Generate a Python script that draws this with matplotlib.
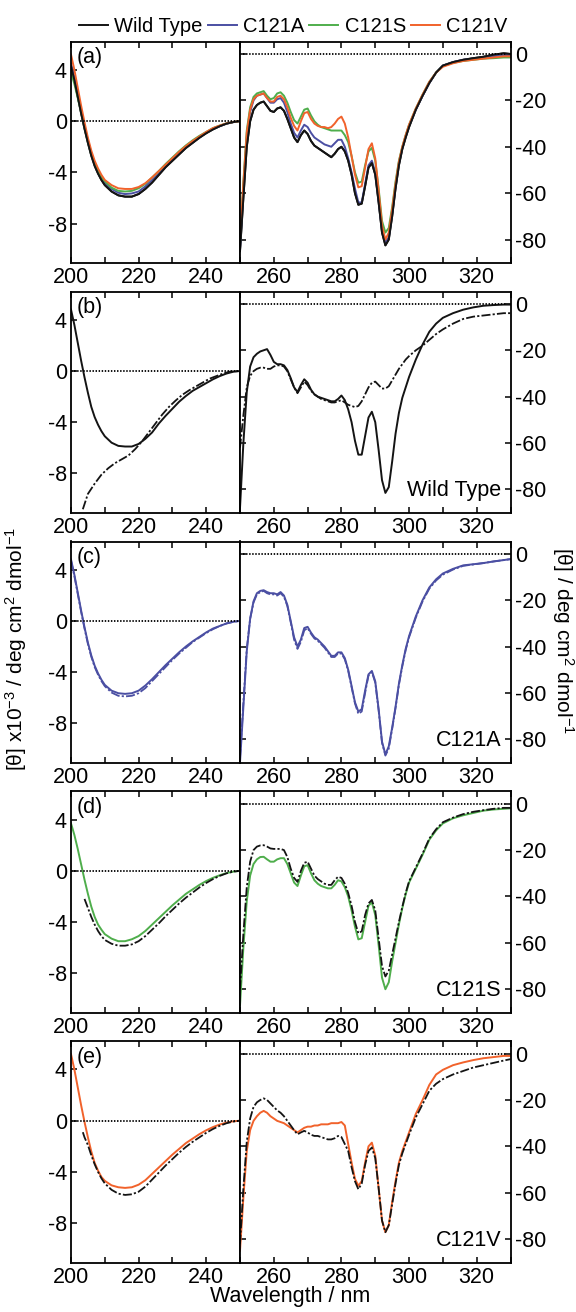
import matplotlib
matplotlib.use('Agg')
import matplotlib.pyplot as plt
from matplotlib.lines import Line2D
from matplotlib.ticker import MultipleLocator

plt.rcParams.update({
    'font.family': ['Liberation Sans', 'DejaVu Sans'],
    'font.size': 15,
    'mathtext.fontset': 'custom',
    'mathtext.rm': 'Liberation Sans',
    'mathtext.default': 'regular',
    'axes.unicode_minus': False,
    'axes.linewidth': 1.3,
})

# ---- data ----
names = ['Wild Type', 'C121A', 'C121S', 'C121V']
colors = {'Wild Type': '#141414', 'C121A': '#4b4fa3', 'C121S': '#4fae4c', 'C121V': '#f1622b'}
panel_tags = ['(a)', '(b)', '(c)', '(d)', '(e)']

far_wl = [200, 201, 202, 203, 204, 205, 206, 207, 208, 209, 210, 212, 214, 216, 218, 220,
          222, 224, 226, 228, 230, 232, 234, 236, 238, 240, 242, 244, 246, 248, 250]
near_wl = [250, 251, 252, 253, 254, 255, 256, 257, 258, 259, 260, 261, 262, 263, 264, 265,
           266, 267, 268, 269, 270, 271, 272, 273, 274, 275, 276, 277, 278, 279, 280, 281,
           282, 283, 284, 285, 286, 287, 288, 289, 290, 291, 292, 293, 294, 295, 296, 297,
           298, 299, 300, 302, 304, 306, 308, 310, 313, 316, 319, 322, 325, 328, 330]

# panel (a): all four proteins
far_a_wt = [4.3, 3.2, 1.9, 0.6, -0.6, -1.7, -2.7, -3.5, -4.1, -4.6, -5.0, -5.5, -5.8, -5.9, -5.9, -5.7,
            -5.3, -4.8, -4.2, -3.6, -3.1, -2.6, -2.1, -1.7, -1.3, -0.95, -0.65, -0.4, -0.2, -0.08, 0]
far_a_A = [4.5, 3.4, 2.1, 0.8, -0.4, -1.5, -2.5, -3.3, -3.9, -4.4, -4.8, -5.3, -5.6, -5.7, -5.65, -5.5,
           -5.1, -4.6, -4.1, -3.5, -3.0, -2.5, -2.05, -1.65, -1.25, -0.9, -0.6, -0.4, -0.2, -0.08, 0]
far_a_S = [3.8, 2.9, 1.8, 0.7, -0.5, -1.6, -2.6, -3.3, -3.9, -4.4, -4.7, -5.2, -5.45, -5.5, -5.45, -5.25,
           -4.9, -4.4, -3.9, -3.35, -2.85, -2.35, -1.9, -1.5, -1.15, -0.85, -0.55, -0.35, -0.18, -0.07, 0]
far_a_V = [5.2, 4.0, 2.6, 1.2, -0.1, -1.3, -2.3, -3.1, -3.7, -4.2, -4.6, -5.0, -5.25, -5.3, -5.3, -5.15,
           -4.85, -4.4, -3.9, -3.4, -2.9, -2.4, -1.95, -1.55, -1.2, -0.85, -0.55, -0.35, -0.18, -0.07, 0]

near_a_wt = [-85, -62, -40, -29, -24, -22, -21, -20.5, -22.5, -24.5, -25, -23.5, -23, -24.5, -28, -32,
             -36, -38, -35, -33, -34.5, -37.5, -39.5, -40.5, -41.5, -42.5, -43.5, -44.5, -43, -41, -40, -42,
             -46, -52, -60, -65, -64.5, -57, -49, -47, -52, -64, -77, -82.5, -80, -70, -58, -48,
             -41, -36, -31.5, -24, -18, -12.5, -8, -5, -3.5, -2.5, -1.8, -1.2, -0.3, 0.3, 0]
near_a_A = [-84, -58, -36, -25, -20, -18, -17.5, -17, -19, -21, -21, -19.5, -19, -21, -25, -30,
            -34, -36, -33, -30.5, -31.5, -34, -36, -37, -38, -39, -39.5, -40, -38.5, -37, -37, -40,
            -45, -51, -58, -64, -64, -56, -48, -46, -51, -63, -76, -81, -79, -69, -57, -47,
            -40.5, -35.5, -31, -24, -18, -12.5, -8, -5, -3.5, -2.5, -2, -1.5, -1, -0.5, -0.5]
near_a_S = [-82, -55, -33, -23, -18.5, -17, -16.5, -16, -18, -19.5, -19, -17, -16.5, -18, -21, -25,
            -28.5, -30, -27, -24, -23.5, -26.5, -29, -30.5, -31.5, -32, -32.5, -33, -33, -33, -33, -35,
            -38, -44, -51, -55.5, -55, -48, -42, -40.5, -46, -58, -72, -77, -75, -66, -55, -46,
            -40, -35, -30.5, -23.5, -17.5, -12, -8, -5.2, -3.8, -3, -2.5, -2, -1.8, -1.5, -1.5]
near_a_V = [-80, -56, -34, -24, -19.5, -18, -17.5, -17, -19, -20.5, -20.5, -18.5, -18, -19.5, -23, -27.5,
            -31, -33, -29, -25.5, -25, -28, -30, -31, -31.5, -31.5, -32, -31.5, -30, -28, -27, -30,
            -36, -44, -52, -57.5, -57, -49, -41, -38.5, -45, -59, -74, -80, -77, -67, -56, -46.5,
            -40, -35, -30.5, -23.5, -17.5, -12, -8, -5.5, -4, -3, -2.5, -2, -1.5, -1, -1]

# panel (b): wild type, solid and dashed
far_b_solid = [4.8, 3.6, 2.2, 0.8, -0.5, -1.7, -2.8, -3.6, -4.2, -4.7, -5.1, -5.6, -5.85, -5.9, -5.9, -5.7,
               -5.3, -4.8, -4.1, -3.5, -2.95, -2.4, -1.95, -1.55, -1.25, -0.95, -0.65, -0.4, -0.2, -0.06, 0]
far_b_dash_wl = [203.5, 205, 207, 209, 211, 213, 215, 217, 219, 221, 223, 225, 227, 229, 231, 233,
                 235, 237, 239, 241, 243, 245, 247, 250]
far_b_dash = [-10.8, -9.6, -8.8, -8.1, -7.6, -7.2, -6.9, -6.6, -6.1, -5.5, -4.8, -4.1, -3.4, -2.8, -2.3, -1.85,
              -1.5, -1.2, -0.9, -0.6, -0.4, -0.2, -0.05, 0]
near_b_solid = [-88, -60, -38, -27, -23, -21.5, -20.5, -20, -19.5, -22, -25, -26, -26, -26.5, -28.5, -32,
                -36, -38, -35, -32.5, -34, -37, -39, -40, -40.5, -41, -41.5, -42, -42, -41, -39.5, -41.5,
                -45.5, -51, -59, -65, -65, -57, -49, -46.5, -51, -63, -76, -81.5, -79, -68, -56, -47,
                -40.5, -36, -31.5, -24, -17.5, -12, -8.5, -6, -4, -2.5, -1.5, -0.8, -0.5, -0.3, -0.3]
near_b_dash = [-62, -48, -36, -31, -29, -28, -27.5, -27.5, -28, -28, -27, -26.5, -26.5, -27, -29, -32.5,
               -36, -38.5, -36, -33.5, -35, -37.5, -39, -40, -41, -41.5, -42, -42.5, -42.5, -42, -41.5, -42.5,
               -43.5, -44, -44.5, -44, -42, -39, -36, -34, -33.5, -35, -36.5, -36.5, -35.5, -33, -30.5, -28,
               -26, -24, -22.5, -20, -18, -15.5, -13, -11, -8.5, -6.5, -5.5, -5, -4.5, -4, -4]

# panel (c): C121A
far_c_solid = [4.8, 3.6, 2.2, 0.8, -0.5, -1.7, -2.7, -3.5, -4.1, -4.6, -5.0, -5.45, -5.65, -5.7, -5.65, -5.45,
               -5.05, -4.55, -4.0, -3.45, -2.95, -2.45, -2.0, -1.6, -1.25, -0.9, -0.6, -0.4, -0.2, -0.07, 0]
far_c_dash = [4.7, 3.5, 2.1, 0.7, -0.6, -1.8, -2.8, -3.6, -4.2, -4.7, -5.1, -5.6, -5.85, -5.9, -5.85, -5.65,
              -5.25, -4.7, -4.15, -3.6, -3.05, -2.55, -2.1, -1.65, -1.3, -0.95, -0.65, -0.4, -0.2, -0.08, 0]
near_c_solid = [-90, -66, -42, -28, -20.5, -17, -16, -15.7, -16.5, -17, -17, -17.5, -16.5, -18, -22, -29,
                -36, -40, -37, -32, -31.5, -34, -36, -37, -38.5, -40, -42, -44, -44, -42.5, -42.5, -45,
                -50, -57, -64, -68, -67, -59, -52, -50.5, -55, -67, -81, -86.5, -83, -75, -66, -56,
                -48, -41, -35.5, -27, -20, -14.5, -11, -8.5, -6.5, -5, -4.5, -4, -3.3, -2.7, -2.3]
near_c_dash = [-88, -64, -41, -28, -21, -17.5, -16.5, -16, -17, -17.5, -17.5, -18, -17, -18.5, -22.5, -29.5,
               -37, -41, -38, -33, -32, -34.5, -36.5, -37.5, -39, -40.5, -42.5, -44.5, -44.5, -43, -43, -45.5,
               -50.5, -57.5, -64.5, -69, -68, -60, -52.5, -51, -55.5, -67.5, -81.5, -87, -84, -75.5, -66.5, -56.5,
               -48.5, -41.5, -36, -27.5, -20.5, -15, -11.5, -9, -6.8, -5.2, -4.6, -4, -3.3, -2.7, -2.3]

# panel (d): C121S
far_d_solid = [3.7, 2.8, 1.7, 0.5, -0.7, -1.8, -2.8, -3.6, -4.2, -4.6, -4.95, -5.3, -5.5, -5.5, -5.35, -5.1,
               -4.7, -4.2, -3.7, -3.2, -2.7, -2.25, -1.8, -1.45, -1.1, -0.8, -0.55, -0.35, -0.18, -0.07, 0]
far_d_dash_wl = [204, 205, 206, 207, 208, 209, 210, 212, 214, 216, 218, 220, 222, 224, 226, 228,
                 230, 232, 234, 236, 238, 240, 242, 244, 246, 248, 250]
far_d_dash = [-2.2, -2.9, -3.6, -4.2, -4.7, -5.1, -5.4, -5.7, -5.85, -5.85, -5.75, -5.5, -5.1, -4.6, -4.1, -3.55,
              -3.05, -2.55, -2.1, -1.7, -1.3, -0.95, -0.65, -0.4, -0.2, -0.07, 0]
near_d_solid = [-87, -62, -42, -31, -26, -24, -23, -22.9, -24, -25, -25, -24, -23.5, -23.5, -26, -30,
                -34, -35.5, -31, -27, -26.5, -30, -33, -34.5, -35.5, -36, -36.5, -36.5, -35, -33, -33.5, -36,
                -40, -46, -53, -58.5, -58, -51, -44, -42.5, -48, -61, -75, -80, -77, -68, -60, -52,
                -45, -39, -34, -28, -22, -15.5, -11.5, -8.5, -6.3, -5, -4, -3, -2.5, -2.2, -2]
near_d_dash = [-80, -56, -36, -25, -20, -18.5, -18, -17.9, -18.5, -19.3, -19.5, -19.5, -19.5, -20, -23, -28,
               -32, -33.7, -29, -25.5, -25, -28, -31, -32.5, -33.5, -34.5, -35, -35, -33, -31.5, -32, -34.5,
               -38.5, -44, -51, -55.9, -55, -48, -43, -41.5, -46, -58, -70, -74.5, -72, -65, -58, -51,
               -44.5, -38.5, -33.5, -27.5, -21.5, -15, -11, -8, -6, -4.5, -3.5, -2.8, -2.2, -1.8, -1.8]

# panel (e): C121V
far_e_solid = [5.2, 4.0, 2.6, 1.2, -0.1, -1.3, -2.4, -3.3, -3.9, -4.4, -4.7, -5.05, -5.2, -5.25, -5.2, -5.0,
               -4.65, -4.15, -3.65, -3.15, -2.65, -2.2, -1.75, -1.4, -1.05, -0.75, -0.5, -0.3, -0.15, -0.05, 0]
far_e_dash_wl = [203.5, 204, 205, 206, 207, 208, 209, 210, 212, 214, 216, 218, 220, 222, 224, 226,
                 228, 230, 232, 234, 236, 238, 240, 242, 244, 246, 248, 250]
far_e_dash = [-0.9, -1.3, -1.9, -2.7, -3.4, -4.0, -4.5, -4.9, -5.4, -5.7, -5.8, -5.75, -5.55, -5.15, -4.6, -4.05,
              -3.5, -3.0, -2.5, -2.05, -1.65, -1.3, -0.95, -0.65, -0.4, -0.2, -0.07, 0]
near_e_solid = [-85, -62, -42, -33, -29, -27, -25.5, -24.7, -25.5, -27, -28, -29, -29.5, -30, -31, -32,
                -33, -34, -33, -32, -31.5, -31.5, -31, -31, -30.5, -30.5, -30.5, -30, -30, -30, -29.5, -31,
                -39, -47, -54, -57, -55, -47, -40, -38.4, -44, -58, -72, -77, -74, -64, -55, -47,
                -42, -38, -34, -26, -20, -13.5, -9, -7, -5, -3.8, -2.8, -2, -1.5, -1, -1]
near_e_dash = [-82, -58, -38, -28, -23, -21, -20, -19.3, -20, -21.5, -23, -24.5, -25.5, -27, -29, -31,
               -33, -34.8, -34, -33.3, -34, -35, -35.5, -35.5, -36, -36.5, -37, -37, -36.5, -35.5, -36, -39,
               -42, -49, -55, -58.5, -56, -48, -42, -40.5, -45, -58, -72, -77, -74, -65, -56, -48,
               -43, -39, -35, -27.5, -21.8, -16, -13, -11, -9, -7.5, -6, -5, -4, -3, -2.4]

# ---- layout (pixels of the 576x1312 figure) ----
W, H = 576, 1312
x0, xm, x1 = 71, 240, 510.5
top0, ph, step = 41.7, 221.5, 249.9
dash = (0, (5, 1.2, 1.2, 1.2))
dots = (0, (0.8, 0.9))

fig = plt.figure(figsize=(W / 100, H / 100), dpi=100)

panels = [
    # (solid far, solid near, solid colour, dashed wl, dashed far, dashed near, dashed colour, name)
    None,
    (far_b_solid, near_b_solid, colors['Wild Type'], far_b_dash_wl, far_b_dash, near_b_dash, colors['Wild Type'], 'Wild Type'),
    (far_c_solid, near_c_solid, colors['C121A'], far_wl, far_c_dash, near_c_dash, colors['C121A'], 'C121A'),
    (far_d_solid, near_d_solid, colors['C121S'], far_d_dash_wl, far_d_dash, near_d_dash, colors['Wild Type'], 'C121S'),
    (far_e_solid, near_e_solid, colors['C121V'], far_e_dash_wl, far_e_dash, near_e_dash, colors['Wild Type'], 'C121V'),
]

for i in range(5):
    top = top0 + i * step
    bot = 1 - (top + ph) / H
    axL = fig.add_axes([x0 / W, bot, (xm - x0) / W, ph / H])
    axR = fig.add_axes([xm / W, bot, (x1 - xm) / W, ph / H])

    if i == 0:
        far_sets = [far_a_wt, far_a_A, far_a_S, far_a_V]
        near_sets = [near_a_wt, near_a_A, near_a_S, near_a_V]
        for nm, fy, ny in zip(names, far_sets, near_sets):
            axL.plot(far_wl, fy, color=colors[nm], lw=1.4)
            axR.plot(near_wl, ny, color=colors[nm], lw=1.4)
        # black on top like in the original
        axL.plot(far_wl, far_a_wt, color=colors['Wild Type'], lw=1.4)
        axR.plot(near_wl, near_a_wt, color=colors['Wild Type'], lw=1.4)
    else:
        fs, ns, cs, dwl, fd, nd, cd, name = panels[i]
        axL.plot(far_wl, fs, color=cs, lw=1.4)
        axR.plot(near_wl, ns, color=cs, lw=1.4)
        axL.plot(dwl, fd, color=cd, lw=1.3, ls=dash)
        axR.plot(near_wl, nd, color=cd, lw=1.3, ls=dash)
        axR.text(0.965, 0.077, name, transform=axR.transAxes, ha='right', va='baseline', fontsize=15.5)

    axL.axhline(0, color='black', lw=1.3, ls=dots)
    axR.plot([251, 329], [0, 0], color='black', lw=1.3, ls=dots)

    axL.set_xlim(200, 250)
    axR.set_xlim(250, 330)
    axL.set_ylim(-11.1, 6.2)
    axR.set_ylim(-90.2, 5.3)

    axL.set_xticks([200, 220, 240])
    axL.xaxis.set_minor_locator(MultipleLocator(10))
    axL.set_yticks([4, 0, -4, -8])
    axR.set_xticks([260, 280, 300, 320])
    axR.xaxis.set_minor_locator(MultipleLocator(10))
    axR.set_yticks([0, -20, -40, -60, -80])

    for ax in (axL, axR):
        ax.tick_params(which='both', direction='in', top=True, bottom=True, length=4, width=1.1,
                       labelsize=15.5, pad=3)
    axL.tick_params(axis='y', left=True, right=False)
    axR.tick_params(axis='y', left=True, right=True, labelleft=False, labelright=True, pad=3)

    axL.text(0.035, 0.975, panel_tags[i], transform=axL.transAxes, ha='left', va='top', fontsize=15.5)

handles = [Line2D([], [], color=colors[n], lw=1.4) for n in names]
fig.legend(handles, names, loc='center', bbox_to_anchor=(0.509, 0.980), ncol=4, frameon=False,
           handlelength=1.45, handletextpad=0.3, columnspacing=0.25, fontsize=14.5,
           borderaxespad=0, borderpad=0)

fig.text(0.027, 0.505, r'[θ] x10$^{-3}$ / deg cm$^{2}$ dmol$^{-1}$', rotation=90,
         ha='center', va='center', fontsize=15)
fig.text(0.977, 0.512, r'[θ] / deg cm$^{2}$ dmol$^{-1}$', rotation=270,
         ha='center', va='center', fontsize=15)
fig.text(0.503, 0.004, 'Wavelength / nm', ha='center', va='bottom', fontsize=15.5)

fig.savefig('out.png', dpi=100)
plt.close(fig)
